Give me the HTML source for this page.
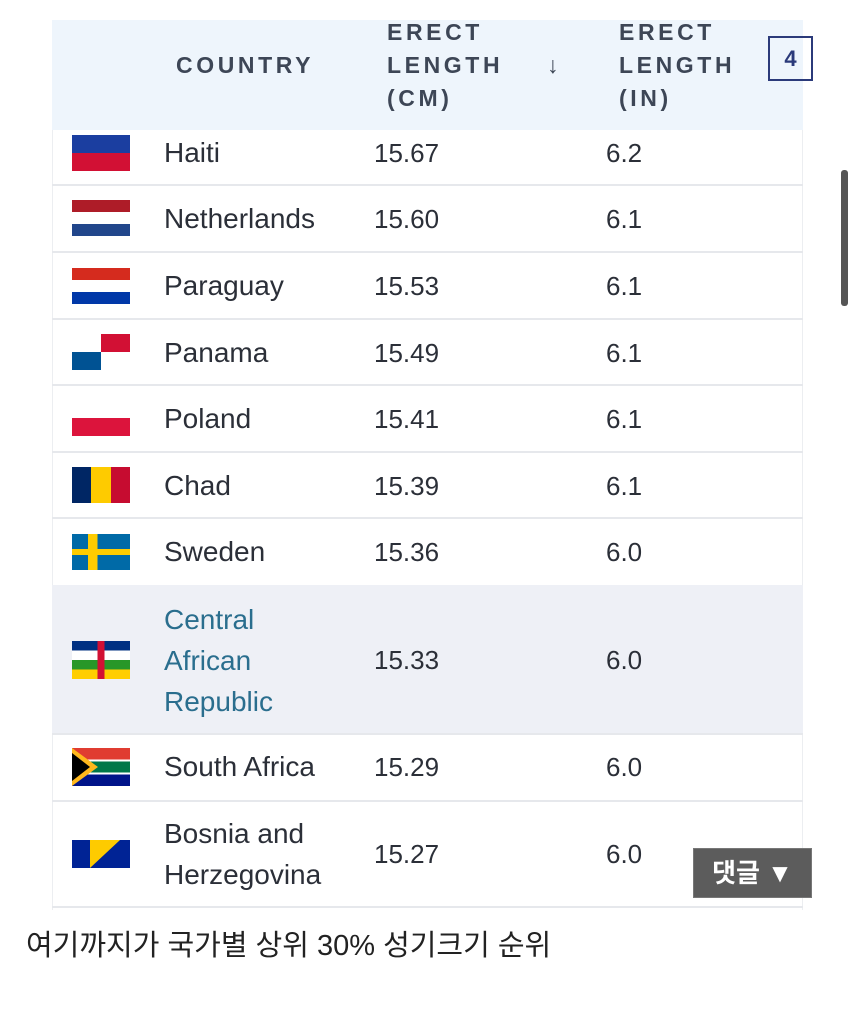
<!DOCTYPE html>
<html><head><meta charset="utf-8"><style>
body{margin:0;width:854px;height:1014px;background:#fff;position:relative;overflow:hidden;font-family:"Liberation Sans","Noto Sans CJK KR",sans-serif;color:#2b2f38}
.a{position:absolute}
.hdr{left:52px;top:20px;width:751px;height:110px;background:#eef5fc}
.h{position:absolute;font-weight:bold;font-size:23px;letter-spacing:3.6px;color:#3d4656;line-height:33px}
.line{position:absolute;left:52px;width:751px;height:2px;background:#e6e8ec}
.t{position:absolute;font-size:26px;line-height:40px}
.n{font-size:28px}
.f{position:absolute;left:72px;width:58px;height:36px}
</style></head><body>
<div class="a" style="left:52px;top:20px;width:1px;height:890px;background:#eceef1"></div>
<div class="a" style="left:802px;top:20px;width:1px;height:890px;background:#eceef1"></div>
<div class="a hdr"></div>
<div class="h" style="left:176px;top:49px">COUNTRY</div>
<div class="h" style="left:387px;top:16px">ERECT<br>LENGTH<br>(CM)</div>
<div class="h" style="left:547px;top:49px">↓</div>
<div class="h" style="left:619px;top:16px">ERECT<br>LENGTH<br>(IN)</div>
<div class="a" style="left:768px;top:36px;width:41px;height:41px;border:2px solid #2b3a7a;font-weight:bold;font-size:22px;color:#2b3a7a;text-align:center;line-height:41px">4</div>
<div class="a" style="left:841px;top:170px;width:7px;height:136px;background:#555;border-radius:3px"></div>

<div class="f" style="top:135px;background:linear-gradient(#1b3ea0 50%,#d21034 50%)"></div>
<div class="t n" style="left:164px;top:133px">Haiti</div><div class="t" style="left:374px;top:133px">15.67</div><div class="t" style="left:606px;top:133px">6.2</div>
<div class="line" style="top:184px"></div>
<div class="f" style="top:200px;background:linear-gradient(#ae1c28 33%,#fff 33% 67%,#21468b 67%)"></div>
<div class="t n" style="left:164px;top:199px">Netherlands</div><div class="t" style="left:374px;top:199px">15.60</div><div class="t" style="left:606px;top:199px">6.1</div>
<div class="line" style="top:251px"></div>
<div class="f" style="top:268px;background:linear-gradient(#d52b1e 33%,#fff 33% 67%,#0038a8 67%)"></div>
<div class="t n" style="left:164px;top:266px">Paraguay</div><div class="t" style="left:374px;top:266px">15.53</div><div class="t" style="left:606px;top:266px">6.1</div>
<div class="line" style="top:318px"></div>
<div class="f" style="top:334px;background:linear-gradient(90deg,#fff 50%,#d21034 50%) top/100% 50% no-repeat,linear-gradient(90deg,#005293 50%,#fff 50%) bottom/100% 50% no-repeat"></div>
<div class="t n" style="left:164px;top:333px">Panama</div><div class="t" style="left:374px;top:333px">15.49</div><div class="t" style="left:606px;top:333px">6.1</div>
<div class="line" style="top:384px"></div>
<div class="f" style="top:400px;background:linear-gradient(#fff 50%,#dc143c 50%)"></div>
<div class="t n" style="left:164px;top:399px">Poland</div><div class="t" style="left:374px;top:399px">15.41</div><div class="t" style="left:606px;top:399px">6.1</div>
<div class="line" style="top:451px"></div>
<div class="f" style="top:467px;background:linear-gradient(90deg,#002664 33%,#fecb00 33% 67%,#c60c30 67%)"></div>
<div class="t n" style="left:164px;top:466px">Chad</div><div class="t" style="left:374px;top:466px">15.39</div><div class="t" style="left:606px;top:466px">6.1</div>
<div class="line" style="top:517px"></div>
<div class="f" style="top:534px;background:linear-gradient(90deg,transparent 28%,#fecc00 28% 44%,transparent 44%),linear-gradient(#006aa7 42%,#fecc00 42% 58%,#006aa7 58%)"></div>
<div class="t n" style="left:164px;top:532px">Sweden</div><div class="t" style="left:374px;top:532px">15.36</div><div class="t" style="left:606px;top:532px">6.0</div>
<div class="a" style="left:52px;top:585px;width:751px;height:148px;background:#eef0f6"></div>
<div class="f" style="top:641px;height:38px;background:linear-gradient(90deg,transparent 44%,#d21034 44% 56%,transparent 56%),linear-gradient(#003082 25%,#fff 25% 50%,#289728 50% 75%,#ffce00 75%)"></div>
<div class="t n" style="left:164px;top:599px;color:#2a6e8e;line-height:41px">Central<br>African<br>Republic</div>
<div class="t" style="left:374px;top:640px">15.33</div><div class="t" style="left:606px;top:640px">6.0</div>
<div class="line" style="top:733px"></div>
<div class="f" style="top:748px;height:38px;background:linear-gradient(#e03c31 30%,#fff 30% 36%,#007749 36% 64%,#fff 64% 70%,#001489 70%)"></div>
<div class="a" style="left:72px;top:748px;width:0;height:0;border-top:19px solid transparent;border-bottom:19px solid transparent;border-left:26px solid #ffb81c"></div>
<div class="a" style="left:72px;top:753px;width:0;height:0;border-top:14px solid transparent;border-bottom:14px solid transparent;border-left:18px solid #000"></div>
<div class="t n" style="left:164px;top:747px">South Africa</div><div class="t" style="left:374px;top:747px">15.29</div><div class="t" style="left:606px;top:747px">6.0</div>
<div class="line" style="top:800px"></div>
<div class="f" style="top:840px;height:28px;background:#002395"></div>
<div class="a" style="left:90px;top:840px;width:0;height:0;border-left:30px solid #fecb00;border-bottom:28px solid transparent"></div>
<div class="t n" style="left:164px;top:813px;line-height:41px">Bosnia and<br>Herzegovina</div>
<div class="t" style="left:374px;top:834px">15.27</div><div class="t" style="left:606px;top:834px">6.0</div>
<div class="line" style="top:906px"></div>
<div class="a" style="left:693px;top:848px;width:117px;height:48px;background:#5c5c5c;border:1px solid #777;color:#fff;font-size:26px;font-weight:bold;text-align:center;line-height:48px">댓글 ▼</div>
<div class="a" style="left:26px;top:925px;font-size:29px;color:#222;line-height:42px">여기까지가 국가별 상위 30% 성기크기 순위</div>
</body></html>
